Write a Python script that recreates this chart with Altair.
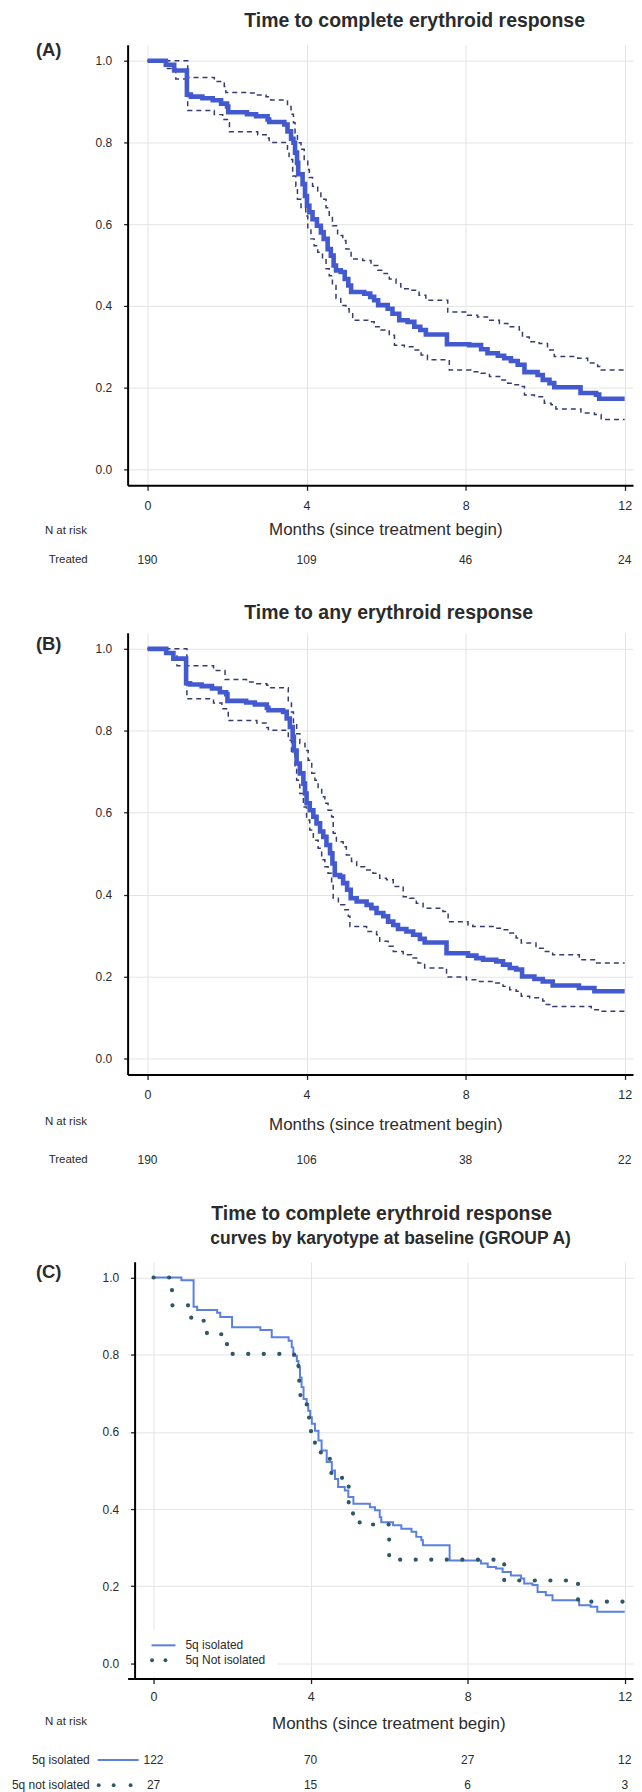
import altair as alt
import pandas as pd

FONT = "Liberation Sans"
MAIN = "#4259CF"
CI = "#363C70"
ISO = "#5A80E2"
NOTISO = "#2E5868"
GRID = "#E4E4E4"
TXT = "#2b2b2b"

month_ticks = [0, 4, 8, 12]
surv_ticks = [0.0, 0.2, 0.4, 0.6, 0.8, 1.0]

# ---------------- Panel A : time to complete erythroid response
A_t = [0, 0.46, 0.67, 0.99, 1.09, 1.38, 1.64, 1.85, 2.0, 2.03, 2.5, 2.73, 3.02, 3.06, 3.44,
       3.52, 3.61, 3.67, 3.71, 3.76, 3.79, 3.9, 3.96, 4.01, 4.07, 4.15, 4.26, 4.36, 4.43, 4.53,
       4.61, 4.68, 4.74, 4.86, 4.96, 5.05, 5.12, 5.45, 5.6, 5.7, 5.8, 6.04, 6.16, 6.33, 6.54,
       6.71, 6.86, 7.0, 7.53, 8.09, 8.39, 8.55, 8.81, 8.97, 9.14, 9.31, 9.48, 9.81, 9.94, 10.11,
       10.23, 10.89, 11.28, 11.36, 12.0]
A_v = [1.0, 0.99, 0.976, 0.917, 0.912, 0.908, 0.903, 0.895, 0.888, 0.874, 0.869, 0.864, 0.856, 0.85, 0.844,
       0.827, 0.809, 0.799, 0.775, 0.75, 0.722, 0.698, 0.669, 0.645, 0.629, 0.612, 0.596, 0.58, 0.564, 0.539,
       0.523, 0.499, 0.487, 0.483, 0.466, 0.45, 0.434, 0.43, 0.422, 0.414, 0.402, 0.393, 0.381, 0.365, 0.361,
       0.349, 0.341, 0.330, 0.306, 0.304, 0.294, 0.284, 0.278, 0.272, 0.265, 0.256, 0.238, 0.231, 0.219, 0.211,
       0.201, 0.187, 0.183, 0.173, 0.173]
A_up_t = [0, 1.01, 1.68, 1.93, 1.97, 2.52, 2.73, 2.98, 3.10, 3.52, 3.61, 3.67, 3.71, 3.77, 3.86,
          3.94, 4.03, 4.07, 4.15, 4.28, 4.36, 4.49, 4.57, 4.65, 4.78, 4.91, 4.99, 5.12, 5.41, 5.62,
          5.79, 5.95, 6.08, 6.25, 6.37, 6.63, 6.83, 7.0, 7.55, 8.05, 8.30, 8.55, 8.85, 9.06, 9.35,
          9.43, 9.60, 9.85, 10.06, 10.23, 10.82, 11.07, 11.32, 11.41, 12.0]
A_up_v = [1.0, 0.959, 0.949, 0.937, 0.922, 0.921, 0.916, 0.912, 0.904, 0.888, 0.869, 0.848, 0.823, 0.799, 0.783,
          0.758, 0.734, 0.714, 0.693, 0.681, 0.661, 0.640, 0.620, 0.596, 0.572, 0.560, 0.539, 0.515, 0.511, 0.499,
          0.487, 0.479, 0.466, 0.454, 0.442, 0.438, 0.426, 0.414, 0.385, 0.377, 0.373, 0.365, 0.357, 0.349, 0.341,
          0.324, 0.312, 0.308, 0.292, 0.276, 0.272, 0.260, 0.252, 0.243, 0.243]
A_lo_t = [0, 0.50, 0.71, 1.01, 1.68, 1.89, 2.03, 2.06, 2.77, 3.02, 3.06, 3.52, 3.56, 3.65, 3.73,
          3.77, 3.86, 3.98, 4.03, 4.11, 4.19, 4.28, 4.40, 4.49, 4.57, 4.65, 4.74, 4.86, 4.99, 5.07,
          5.16, 5.54, 5.70, 5.87, 6.08, 6.21, 6.46, 6.71, 6.88, 7.04, 7.59, 8.13, 8.39, 8.60, 8.89,
          9.06, 9.22, 9.39, 9.48, 9.73, 9.98, 10.15, 10.27, 10.90, 11.24, 11.41, 12.0]
A_lo_v = [1.0, 0.981, 0.955, 0.878, 0.868, 0.856, 0.848, 0.826, 0.819, 0.811, 0.800, 0.783, 0.758, 0.718, 0.693,
          0.661, 0.641, 0.620, 0.588, 0.564, 0.547, 0.531, 0.515, 0.491, 0.474, 0.450, 0.418, 0.401, 0.393, 0.381,
          0.365, 0.361, 0.349, 0.341, 0.328, 0.304, 0.300, 0.292, 0.280, 0.268, 0.243, 0.239, 0.235, 0.227, 0.219,
          0.211, 0.207, 0.203, 0.182, 0.178, 0.162, 0.158, 0.148, 0.138, 0.134, 0.122, 0.122]
A_risk = [190, 109, 46, 24]

# ---------------- Panel B : time to any erythroid response
B_t = [0, 0.47, 0.65, 0.97, 1.07, 1.36, 1.62, 1.82, 1.98, 2.01, 2.48, 2.70, 3.0, 3.04, 3.41,
       3.50, 3.58, 3.65, 3.68, 3.75, 3.83, 3.92, 3.96, 4.0, 4.08, 4.17, 4.25, 4.34, 4.42, 4.50,
       4.59, 4.65, 4.71, 4.84, 4.92, 5.02, 5.11, 5.26, 5.51, 5.63, 5.76, 5.93, 6.05, 6.18, 6.30,
       6.51, 6.68, 6.85, 6.97, 7.52, 8.06, 8.27, 8.44, 8.77, 8.94, 9.11, 9.27, 9.42, 9.73, 9.94,
       10.19, 10.85, 11.24, 12.0]
B_v = [1.0, 0.990, 0.976, 0.916, 0.913, 0.909, 0.903, 0.894, 0.889, 0.873, 0.869, 0.864, 0.856, 0.850, 0.846,
       0.830, 0.809, 0.785, 0.752, 0.720, 0.696, 0.671, 0.647, 0.623, 0.606, 0.590, 0.574, 0.554, 0.541, 0.521,
       0.501, 0.476, 0.448, 0.444, 0.428, 0.412, 0.391, 0.383, 0.375, 0.367, 0.355, 0.347, 0.334, 0.326, 0.316,
       0.310, 0.302, 0.292, 0.283, 0.257, 0.251, 0.245, 0.241, 0.237, 0.229, 0.221, 0.217, 0.200, 0.194, 0.188,
       0.178, 0.172, 0.164, 0.164]
B_up_t = [0, 0.99, 1.66, 1.95, 2.49, 2.75, 3.0, 3.08, 3.54, 3.62, 3.67, 3.75, 3.83, 3.96, 4.04,
          4.13, 4.21, 4.29, 4.38, 4.46, 4.54, 4.63, 4.67, 4.75, 4.92, 5.0, 5.13, 5.26, 5.46, 5.67,
          5.84, 6.01, 6.18, 6.43, 6.59, 6.76, 6.93, 7.43, 7.56, 8.06, 8.18, 8.73, 8.94, 9.11, 9.27,
          9.40, 9.77, 9.98, 10.19, 10.86, 11.24, 12.0]
B_up_v = [1.0, 0.959, 0.947, 0.925, 0.919, 0.915, 0.911, 0.905, 0.870, 0.846, 0.817, 0.793, 0.769, 0.752, 0.728,
          0.696, 0.679, 0.659, 0.639, 0.623, 0.606, 0.590, 0.550, 0.529, 0.517, 0.497, 0.481, 0.468, 0.460, 0.452,
          0.440, 0.436, 0.420, 0.395, 0.391, 0.379, 0.367, 0.359, 0.334, 0.326, 0.322, 0.318, 0.314, 0.306, 0.294,
          0.282, 0.269, 0.261, 0.253, 0.241, 0.233, 0.233]
B_lo_t = [0, 0.49, 0.74, 0.99, 1.66, 1.87, 2.01, 2.03, 2.75, 3.0, 3.04, 3.54, 3.62, 3.71, 3.75,
          3.83, 3.92, 4.0, 4.08, 4.17, 4.29, 4.38, 4.46, 4.54, 4.63, 4.67, 4.80, 4.96, 5.05, 5.09,
          5.51, 5.76, 5.84, 6.05, 6.18, 6.43, 6.64, 6.80, 6.97, 7.52, 8.02, 8.35, 8.69, 8.94, 9.11,
          9.27, 9.40, 9.61, 9.94, 10.03, 10.19, 11.16, 11.36, 12.0]
B_lo_v = [1.0, 0.988, 0.959, 0.878, 0.868, 0.854, 0.848, 0.825, 0.819, 0.808, 0.801, 0.777, 0.744, 0.712, 0.679,
          0.647, 0.614, 0.582, 0.558, 0.533, 0.513, 0.485, 0.468, 0.452, 0.428, 0.391, 0.375, 0.363, 0.347, 0.322,
          0.310, 0.302, 0.286, 0.274, 0.261, 0.253, 0.245, 0.233, 0.221, 0.199, 0.192, 0.188, 0.184, 0.176, 0.168,
          0.164, 0.152, 0.148, 0.140, 0.132, 0.127, 0.119, 0.115, 0.115]
B_risk = [190, 106, 38, 22]

# ---------------- Panel C : by karyotype (GROUP A)
C_iso_t = [0, 0.71, 1.02, 1.11, 1.62, 1.70, 2.0, 2.72, 3.01, 3.44, 3.52, 3.56, 3.65, 3.69, 3.73,
           3.77, 3.82, 3.90, 3.94, 3.99, 4.03, 4.11, 4.20, 4.28, 4.41, 4.54, 4.62, 4.70, 4.87, 4.96,
           5.09, 5.51, 5.64, 5.76, 5.80, 6.10, 6.31, 6.57, 6.69, 6.82, 6.86, 7.54, 8.34, 8.51, 8.72,
           8.89, 9.10, 9.36, 9.44, 9.65, 9.78, 9.99, 10.16, 10.84, 11.13, 11.30, 12.0]
C_iso_v = [1.0, 0.993, 0.924, 0.916, 0.909, 0.898, 0.871, 0.864, 0.845, 0.836, 0.819, 0.797, 0.784, 0.767, 0.741,
           0.716, 0.685, 0.672, 0.655, 0.638, 0.621, 0.603, 0.578, 0.552, 0.522, 0.500, 0.478, 0.457, 0.448, 0.431,
           0.414, 0.405, 0.397, 0.379, 0.366, 0.358, 0.349, 0.341, 0.328, 0.319, 0.306, 0.267, 0.259, 0.250, 0.246,
           0.237, 0.228, 0.220, 0.207, 0.203, 0.185, 0.177, 0.164, 0.151, 0.147, 0.134, 0.134]
C_not_t = [0, 0.47, 0.96, 1.36, 1.87, 2.01, 3.58, 3.69, 3.71, 3.74, 3.90, 3.96, 4.01, 4.11, 4.26,
           4.49, 4.53, 4.97, 5.08, 5.25, 6.0, 8.93, 10.81, 12.0]
C_not_v = [1.0, 0.928, 0.888, 0.853, 0.826, 0.802, 0.789, 0.763, 0.722, 0.685, 0.661, 0.627, 0.592, 0.562, 0.536,
           0.517, 0.481, 0.407, 0.375, 0.360, 0.269, 0.215, 0.160, 0.160]
C_iso_risk = [122, 70, 27, 12]
C_not_risk = [27, 15, 6, 3]

group_names = ["5q isolated", "5q Not isolated"]
risk_row_names = ["5q isolated", "5q not isolated"]


def curve(t, v):
    return pd.DataFrame({"t": t, "v": v})


def axes(y_label_pad, x_label_pad, y_offset=0):
    xa = alt.Axis(values=month_ticks, title=None, grid=True, gridColor=GRID, gridWidth=1,
                  domainColor="black", domainWidth=2, tickColor="#222", tickSize=5, tickWidth=1.3,
                  labelFontSize=12.5, labelColor=TXT, labelPadding=x_label_pad, labelFont=FONT, format="d")
    ya = alt.Axis(values=surv_ticks, title=None, grid=True, gridColor=GRID, gridWidth=1, format=".1f",
                  domainColor="black", domainWidth=2, tickColor="#222", tickSize=4, tickWidth=1.3,
                  labelFontSize=12, labelColor=TXT, labelPadding=y_label_pad, labelFont=FONT,
                  offset=y_offset)
    return xa, ya


def text_layer(label, x, y, size=12, weight="normal", align="left", color=TXT):
    return alt.Chart(pd.DataFrame({"label": [label]})).mark_text(
        font=FONT, fontSize=size, fontWeight=weight, align=align, baseline="middle", color=color
    ).encode(x=alt.value(x), y=alt.value(y), text="label:N")


def risk_layer(counts, y, xs, xa, size=12):
    df = pd.DataFrame({"t": month_ticks, "n": [str(c) for c in counts]})
    return alt.Chart(df).mark_text(font=FONT, fontSize=size, color=TXT, baseline="middle").encode(
        x=alt.X("t:Q", scale=xs, axis=xa), y=alt.value(y), text="n:N")


def km_panel(main_t, main_v, up_t, up_v, lo_t, lo_v, risk, title, tag, h, layout):
    xs = alt.Scale(domain=[-0.501, 12.21], nice=False, zero=False)
    ys = alt.Scale(domain=[-0.039, 1.039], nice=False, zero=False)
    xa, ya = axes(12, 9)
    base_enc = dict(x=alt.X("t:Q", scale=xs, axis=xa), y=alt.Y("v:Q", scale=ys, axis=ya))
    up = alt.Chart(curve(up_t, up_v)).mark_line(interpolate="step-after", color=CI, strokeWidth=1.5,
                                                strokeDash=[5, 4]).encode(**base_enc)
    lo = alt.Chart(curve(lo_t, lo_v)).mark_line(interpolate="step-after", color=CI, strokeWidth=1.5,
                                                strokeDash=[5, 4]).encode(**base_enc)
    main = alt.Chart(curve(main_t, main_v)).mark_line(interpolate="step-after", color=MAIN,
                                                      strokeWidth=4.6).encode(**base_enc)
    return alt.layer(
        up, lo, main,
        text_layer(title, 117, layout["title"], size=19.5, weight="bold"),
        text_layer(tag, -92, layout["tag"], size=18.5, weight="bold"),
        text_layer("Months (since treatment begin)", 259, layout["months"], size=17, align="center"),
        text_layer("N at risk", -83, layout["nrisk"], size=11.5),
        text_layer("Treated", -40, layout["row"], size=11.5, align="right"),
        risk_layer(risk, layout["row"], xs, xa),
    ).properties(width=507, height=h)


panelA = km_panel(A_t, A_v, A_up_t, A_up_v, A_lo_t, A_lo_v, A_risk,
                  "Time to complete erythroid response", "(A)", 442,
                  {"title": -24, "tag": 5, "months": 487, "nrisk": 488, "row": 517})
panelB = km_panel(B_t, B_v, B_up_t, B_up_v, B_lo_t, B_lo_v, B_risk,
                  "Time to any erythroid response", "(B)", 443,
                  {"title": -20, "tag": 11, "months": 494, "nrisk": 491, "row": 529})

# ---------------- Panel C
xsC = alt.Scale(domain=[-0.66, 12.21], nice=False, zero=False)
ysC = alt.Scale(domain=[-0.039, 1.0406], nice=False, zero=False)
xaC, yaC = axes(12, 7, y_offset=-7)
encC = dict(x=alt.X("t:Q", scale=xsC, axis=xaC), y=alt.Y("v:Q", scale=ysC, axis=yaC))
iso = alt.Chart(curve(C_iso_t, C_iso_v)).mark_line(interpolate="step-after", color=ISO,
                                                   strokeWidth=2).encode(**encC)
notiso = alt.Chart(curve(C_not_t, C_not_v)).mark_line(
    interpolate="step-after", color=NOTISO, strokeWidth=4.2, strokeDash=[0.1, 15.5],
    strokeCap="round").encode(**encC)

legend_bg = alt.Chart(pd.DataFrame({"a": [0]})).mark_rect(color="white").encode(
    x=alt.value(9), x2=alt.value(150), y=alt.value(369), y2=alt.value(416))
leg_line = alt.Chart(pd.DataFrame({"a": [0]})).mark_rule(color=ISO, strokeWidth=2).encode(
    x=alt.value(24), x2=alt.value(48), y=alt.value(384.7))
leg_dots = alt.Chart(pd.DataFrame({"px": [24.5, 38.0]})).mark_circle(color=NOTISO, size=15, opacity=1).encode(
    x=alt.X("px:Q", scale=None), y=alt.value(399.7))
leg_txt1 = text_layer(group_names[0], 58, 384.7, size=12)
leg_txt2 = text_layer(group_names[1], 58, 399.7, size=12)

row_line = alt.Chart(pd.DataFrame({"a": [0]})).mark_rule(color=ISO, strokeWidth=2).encode(
    x=alt.value(-30), x2=alt.value(11), y=alt.value(499.7))
row_dots = alt.Chart(pd.DataFrame({"px": [-29.0, -14.0, 3.0]})).mark_circle(color=NOTISO, size=15, opacity=1).encode(
    x=alt.X("px:Q", scale=None), y=alt.value(525))

panelC = alt.layer(
    legend_bg, iso, notiso, leg_line, leg_dots, leg_txt1, leg_txt2,
    text_layer("Time to complete erythroid  response", 84, -48, size=19.5, weight="bold"),
    text_layer("curves by karyotype at baseline (GROUP A)", 83, -23, size=17.5, weight="bold"),
    text_layer("(C)", -92, 10.7, size=18.5, weight="bold"),
    text_layer("Months (since treatment begin)", 262, 464, size=17, align="center"),
    text_layer("N at risk", -83, 461.7, size=11.5),
    text_layer(risk_row_names[0], -38, 499.7, size=12, align="right"),
    text_layer(risk_row_names[1], -38, 525, size=12, align="right"),
    row_line, row_dots,
    risk_layer(C_iso_risk, 499.7, xsC, xaC),
    risk_layer(C_not_risk, 525, xsC, xaC),
).properties(width=507, height=418)


def spacer(h):
    return alt.Chart(pd.DataFrame({"a": [0]})).mark_text(text="").encode(
        x=alt.value(0), y=alt.value(0)).properties(width=10, height=h)


chart = alt.vconcat(panelA, spacer(148), panelB, spacer(188), panelC, spacing=0, bounds="flush").properties(
    padding={"left": 3, "top": 0, "right": 0, "bottom": 0}
).configure(font=FONT).configure_view(stroke="transparent", strokeWidth=0)

chart.save("out.html", embed_options={"renderer": "svg", "actions": False})
